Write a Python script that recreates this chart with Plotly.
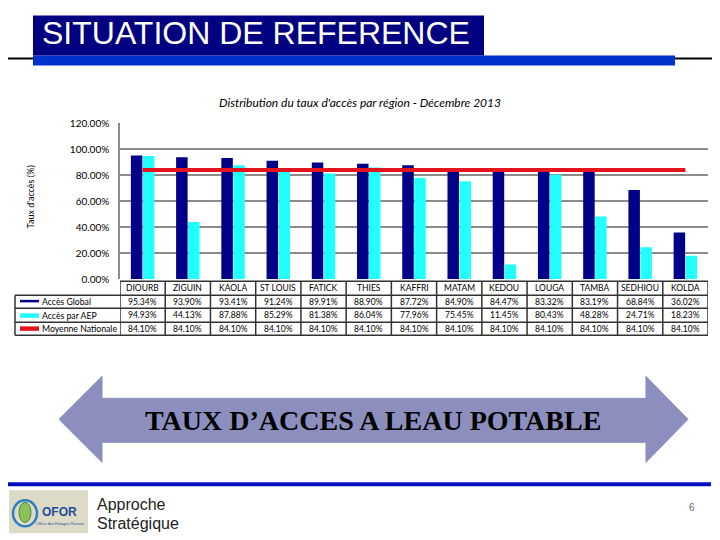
import plotly.graph_objects as go

# ---------------- data ----------------
regions = ["DIOURB", "ZIGUIN", "KAOLA", "ST LOUIS", "FATICK", "THIES", "KAFFRI",
           "MATAM", "KEDOU", "LOUGA", "TAMBA", "SEDHIOU", "KOLDA"]
acces_global = [95.34, 93.90, 93.41, 91.24, 89.91, 88.90, 87.72,
                84.90, 84.47, 83.32, 83.19, 68.84, 36.02]
acces_aep = [94.93, 44.13, 87.88, 85.29, 81.38, 86.04, 77.96,
             75.45, 11.45, 80.43, 48.28, 24.71, 18.23]
moyenne_nationale = [84.10] * 13
series_names = ["Accès Global", "Accès par AEP", "Moyenne Nationale"]
y_ticks = [0, 20, 40, 60, 80, 100, 120]

W, H = 720, 540
OFF = 8  # page body margin compensation
SY, CY = 0.978, 6.75  # vertical rendering compensation


def px(x):
    return (x - OFF) / W


def py(y):
    yi = (y - CY) / SY
    return 1 - (yi - OFF) / H


NAVY = "#000088"
CYAN = "#22FFFF"
RED = "#E2141E"
FONT = "Lato, Liberation Sans, Arial"


def ann(text, x, y, size, color="black", family=FONT, xanchor="center",
        xref="paper", textangle=0):
    return dict(text=text, xref=xref, yref="paper",
                x=px(x) if xref == "paper" else x, y=py(y),
                xanchor=xanchor, yanchor="middle", showarrow=False,
                textangle=textangle, font=dict(family=family, size=size, color=color))


fig = go.Figure()
fig.add_trace(go.Bar(x=regions, y=acces_global, name=series_names[0],
                     marker=dict(color=NAVY, line=dict(width=0))))
fig.add_trace(go.Bar(x=regions, y=acces_aep, name=series_names[1],
                     marker=dict(color=CYAN, line=dict(width=0))))
fig.add_trace(go.Scatter(x=regions, y=moyenne_nationale, name=series_names[2],
                         mode="lines", line=dict(color=RED, width=4)))

shapes = []
annotations = []


def rect(x0, y0, x1, y1, color, layer="below"):
    return dict(type="rect", xref="paper", yref="paper", x0=px(x0), x1=px(x1),
                y0=py(y1), y1=py(y0), fillcolor=color, line=dict(width=0), layer=layer)


def pline(x0, y0, x1, y1, color, width):
    return dict(type="line", xref="paper", yref="paper", x0=px(x0), x1=px(x1),
                y0=py(y0), y1=py(y1), line=dict(color=color, width=width))


# ---------- header ----------
hl = pline(0, 59, 728, 59, "black", 2)
hl["layer"] = "below"
shapes.append(hl)
shapes.append(rect(33, 56, 675, 66, "#0033CC"))
shapes.append(rect(33, 16, 484, 56, "#000080"))
annotations.append(ann("SITUATION DE REFERENCE", 256, 34, 32, "white",
                       "Liberation Sans, Arial"))

# chart title
annotations.append(ann("<i>Distribution du taux d'accès par région - Décembre 2013</i>",
                       360, 103, 12))
# y axis title
annotations.append(ann("Taux d'accès (%)", 30, 198, 9, textangle=-90))

# ---------- data table ----------
row_y = [289, 302.5, 316, 329.5]
line_col = "#333333"
n = len(regions)
shapes.append(dict(type="line", xref="x", yref="paper", x0=-0.5, x1=n - 0.5,
                   y0=py(282), y1=py(282), line=dict(color=line_col, width=1.5)))
for yy in [296, 309, 323, 336]:
    shapes.append(pline(15, yy, 120, yy, line_col, 1.5))
    shapes.append(dict(type="line", xref="x", yref="paper", x0=-0.5, x1=n - 0.5,
                       y0=py(yy), y1=py(yy), line=dict(color=line_col, width=1.5)))
shapes.append(pline(15, 296, 15, 336, line_col, 1.5))
for i in range(n + 1):
    shapes.append(dict(type="line", xref="x", yref="paper", x0=i - 0.5, x1=i - 0.5,
                       y0=py(282), y1=py(336), line=dict(color=line_col, width=1.5)))

for i, r in enumerate(regions):
    annotations.append(ann(r, r, row_y[0], 8.5, xref="x"))
    for j, vals in enumerate([acces_global, acces_aep, moyenne_nationale]):
        annotations.append(ann(f"{vals[i]:.2f}%", r, row_y[j + 1], 8.5, xref="x"))

# legend keys in the table
key_specs = [(NAVY, 300.5, 303), (CYAN, 314, 318.5), (RED, 327, 331.5)]
for j, (col, y0, y1) in enumerate(key_specs):
    shapes.append(rect(20, y0, 39, y1, col, layer="above"))
    annotations.append(ann(series_names[j], 40, row_y[j + 1], 8.7, xanchor="left"))

# ---------- double arrow ----------
pts = [(59, 420), (102, 377), (102, 399), (646, 399), (646, 377), (688, 420),
       (646, 463), (646, 443), (102, 443), (102, 463)]
path = "M " + " L ".join(f"{px(a):.5f},{py(b):.5f}" for a, b in pts) + " Z"
shapes.append(dict(type="path", xref="paper", yref="paper", path=path,
                   fillcolor="#8C8FBE", line=dict(color="#8C8FBE", width=1), layer="below"))
annotations.append(ann("<b>TAUX D’ACCES A LEAU POTABLE</b>", 373, 421, 28, "black",
                       "Liberation Serif, Times New Roman"))

# ---------- footer ----------
shapes.append(pline(5, 485, 711, 485, "#0010C0", 4))
shapes.append(rect(9, 491, 88, 534, "#DEDAC8"))
shapes.append(dict(type="circle", xref="paper", yref="paper", x0=px(13), x1=px(37),
                   y0=py(527), y1=py(501), line=dict(color="#2E7FC0", width=2.5)))
shapes.append(dict(type="circle", xref="paper", yref="paper", x0=px(19), x1=px(31),
                   y0=py(523), y1=py(503), fillcolor="#8DBF5A",
                   line=dict(color="#3A8E3A", width=1)))
annotations.append(ann("<b>OFOR</b>", 59, 513, 12, "#1F4E9A", "Liberation Sans, Arial"))
annotations.append(ann("Office des Forages Ruraux", 60, 524, 4, "#1F4E9A",
                       "Liberation Sans, Arial"))
annotations.append(ann("Approche", 95, 505, 16, "#222222", "Liberation Sans, Arial",
                       xanchor="left"))
annotations.append(ann("Stratégique", 95, 524, 16, "#222222", "Liberation Sans, Arial",
                       xanchor="left"))
annotations.append(ann("6", 692, 508, 10, "#666666", "Liberation Sans, Arial"))

fig.update_layout(
    width=W, height=H, margin=dict(l=0, r=0, t=0, b=0),
    paper_bgcolor="white", plot_bgcolor="white",
    barmode="group", bargap=0.47, bargroupgap=0.04,
    showlegend=False,
    shapes=shapes, annotations=annotations,
    xaxis=dict(domain=[px(120), px(708)], range=[-0.5, n - 0.5], showticklabels=False,
               showgrid=False, zeroline=False, showline=False, ticks=""),
    yaxis=dict(domain=[py(280), py(124)], range=[0, 120], tickvals=y_ticks,
               ticktext=[f"{v:.2f}%" for v in y_ticks],
               tickfont=dict(family=FONT, size=10, color="black"),
               showgrid=True, gridcolor="#8C8C8C", gridwidth=1.5, zeroline=False,
               showline=True, linecolor="#8C8C8C", linewidth=1.5, ticks="",
               ticklabelstandoff=7),
)

fig.write_html("out.html")
